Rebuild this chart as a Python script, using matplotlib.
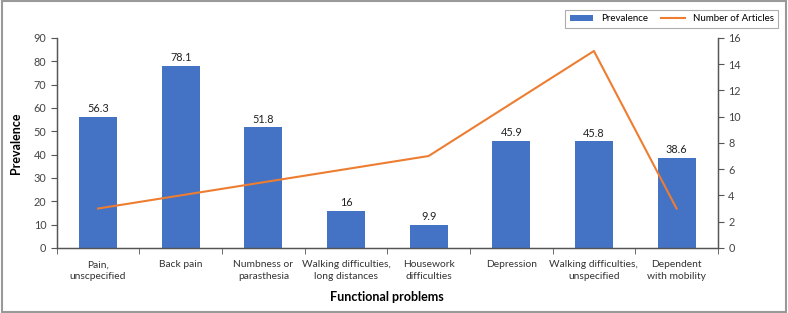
import numpy as np
import matplotlib.pyplot as plt
from matplotlib.patches import Rectangle

plt.rcParams['font.family'] = ['Lato', 'DejaVu Sans']

categories = ['Pain,\nunscpecified', 'Back pain', 'Numbness or\nparasthesia',
              'Walking difficulties,\nlong distances', 'Housework\ndifficulties',
              'Depression', 'Walking difficulties,\nunspecified', 'Dependent\nwith mobility']
prevalence = [56.3, 78.1, 51.8, 16, 9.9, 45.9, 45.8, 38.6]
labels = ['56.3', '78.1', '51.8', '16', '9.9', '45.9', '45.8', '38.6']
articles = [3, 4, 5, 6, 7, 11, 15, 3]

fig = plt.figure(figsize=(7.88, 3.13), dpi=100)
ax = fig.add_axes([0.072, 0.208, 0.839, 0.671])
ax2 = ax.twinx()

x = np.arange(len(categories))
bars = ax.bar(x, prevalence, width=0.46, color='#4472C4', label='Prevalence', zorder=2)
for b, t in zip(bars, labels):
    ax.text(b.get_x() + b.get_width() / 2, b.get_height() + 1, t,
            ha='center', va='bottom', fontsize=7.8, color='#222222')

line, = ax2.plot(x, articles, color='#ED7D31', lw=1.5, label='Number of Articles')

ax.set_xlim(-0.5, len(categories) - 0.5)
ax.set_ylim(0, 90)
ax.set_yticks(range(0, 91, 10))
ax2.set_ylim(0, 16)
ax2.set_yticks(range(0, 17, 2))

ax.set_xticks(x)
ax.set_xticklabels(categories, fontsize=7.4, color='#333333', linespacing=1.4)
ax.tick_params(axis='x', length=0, pad=9)
ax.set_xticks(np.arange(-0.5, len(categories), 1), minor=True)
ax.tick_params(axis='x', which='minor', length=4, direction='out', color='#555555')
ax.tick_params(axis='y', labelsize=7.8, labelcolor='#444444', length=4, color='#555555')
ax2.tick_params(axis='y', labelsize=7.8, labelcolor='#444444', length=4, color='#555555')

for a in (ax, ax2):
    a.spines['top'].set_visible(False)
    for s in ('left', 'right', 'bottom'):
        a.spines[s].set_color('#555555')
        a.spines[s].set_linewidth(0.9)

ax.set_ylabel('Prevalence', fontsize=9, fontweight='bold', labelpad=8)
ax.set_xlabel('Functional problems', fontsize=9, fontweight='bold', labelpad=7)

leg = fig.legend([bars, line], ['Prevalence', 'Number of Articles'],
                 loc='upper right', bbox_to_anchor=(0.994, 0.985), ncol=2,
                 fontsize=7, frameon=True, fancybox=False, edgecolor='#999999',
                 handlelength=2.4, columnspacing=1.4, borderpad=0.5)
leg.get_frame().set_linewidth(0.8)

fig.patches.append(Rectangle((0.002, 0.003), 0.996, 0.994, transform=fig.transFigure,
                             fill=False, edgecolor='#999999', lw=1.5))

fig.savefig('out.png', dpi=100)
